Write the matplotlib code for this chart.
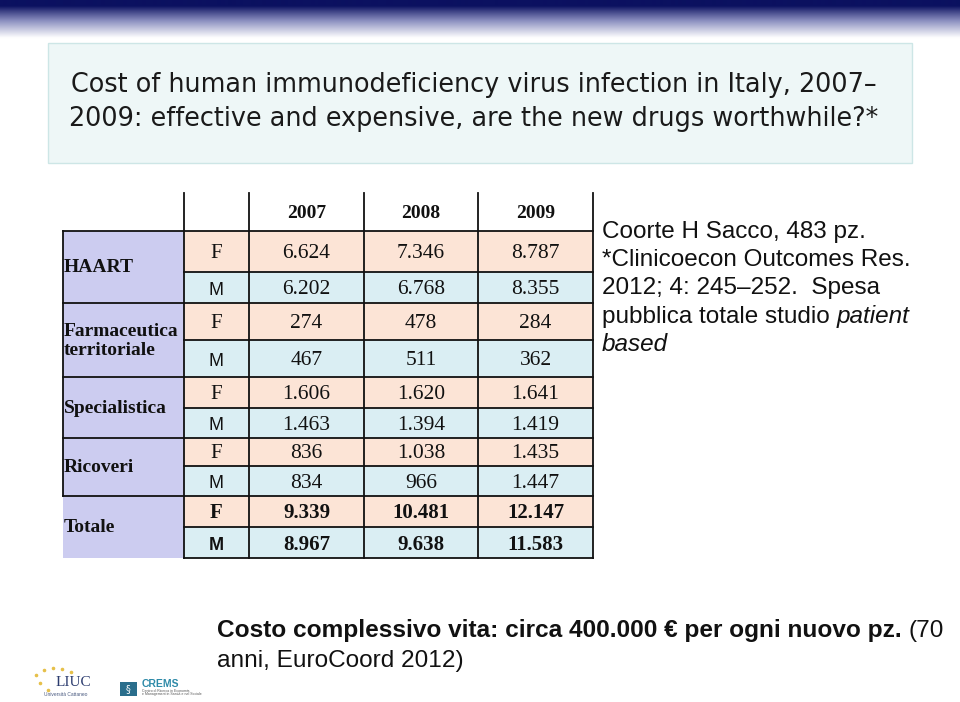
"""Slide: cost of HIV infection in Italy 2007-2009 (table of costs by sex)."""

import matplotlib
matplotlib.use("Agg")
import matplotlib.pyplot as plt
import numpy as np
from matplotlib.patches import Rectangle
from matplotlib.colors import LinearSegmentedColormap

# ── Data ─────────────────────────────────────────────────────────────────────
TITLE_LINES = [
    "Cost of human immunodeficiency virus infection in Italy, 2007–",
    "2009: effective and expensive, are the new drugs worthwhile?*",
]
YEARS = ["2007", "2008", "2009"]
CATEGORIES = ["HAART", "Farmaceutica\nterritoriale", "Specialistica", "Ricoveri", "Totale"]
SEXES = ["F", "M"]
F_VALUES = [
    [6624, 7346, 8787],
    [274, 478, 284],
    [1606, 1620, 1641],
    [836, 1038, 1435],
    [9339, 10481, 12147],
]
M_VALUES = [
    [6202, 6768, 8355],
    [467, 511, 362],
    [1463, 1394, 1419],
    [834, 966, 1447],
    [8967, 9638, 11583],
]
# each note line is a list of (text, style) runs
NOTE_LINES = [
    [("Coorte H Sacco, 483 pz.", "normal")],
    [("*Clinicoecon Outcomes Res.", "normal")],
    [("2012; 4: 245–252.  Spesa", "normal")],
    [("pubblica totale studio ", "normal"), ("patient", "italic")],
    [("based", "italic")],
]
BOTTOM_LINES = [
    [("Costo complessivo vita: circa 400.000 € per ogni nuovo pz. ", "bold"), ("(70", "normal")],
    [("anni, EuroCoord 2012)", "normal")],
]

# ── Colours ──────────────────────────────────────────────────────────────────
NAVY = "#0B1160"
TITLE_BG = "#EEF7F7"
TITLE_EDGE = "#CDE6E6"
LAVENDER = "#CCCCF0"
PEACH = "#FCE4D6"
LIGHT_BLUE = "#DAEEF3"
INK = "#111111"

# ── Layout (pixel coordinates on a 960x702 slide) ───────────────────────────
COL_X = [63, 184, 249, 364, 478, 593]
ROW_Y = [193, 231, 272, 303, 340, 377, 408, 438, 466, 496, 527, 558]
LW = 1.3


def fmt_it(v):
    return f"{v:,}".replace(",", ".")


def draw_runs(ax, x, y, runs, size, family="Liberation Sans"):
    """Draw text runs one after another on one baseline."""
    renderer = ax.figure.canvas.get_renderer()
    inv = ax.transData.inverted()
    for text, style in runs:
        weight = "bold" if style == "bold" else "normal"
        fstyle = "italic" if style == "italic" else "normal"
        t = ax.text(x, y, text, fontsize=size, family=family, weight=weight,
                    style=fstyle, ha="left", va="center", color=INK)
        bb = t.get_window_extent(renderer=renderer)
        x = inv.transform((bb.x1, bb.y0))[0]


fig = plt.figure(figsize=(9.6, 7.02), dpi=100)
ax = fig.add_axes([0, 0, 1, 1])
ax.set_xlim(0, 960)
ax.set_ylim(702, 0)
ax.axis("off")

# header gradient band
grad = np.clip((np.linspace(0, 40, 200) - 6) / 32, 0, 1) ** 0.9
cmap = LinearSegmentedColormap.from_list("band", [NAVY, "#8C90C0", "#FFFFFF"])
ax.imshow(grad[:, None], cmap=cmap, aspect="auto", extent=(0, 960, 40, 0), zorder=0)

# title box
ax.add_patch(Rectangle((48, 43), 864, 120, facecolor=TITLE_BG, edgecolor=TITLE_EDGE, lw=1))
for i, line in enumerate(TITLE_LINES):
    ax.text(474, 85 + i * 34, line, fontsize=18.4, family="DejaVu Sans",
            ha="center", va="center", color="#1A1A1A")

# ── Table ────────────────────────────────────────────────────────────────────
for ci, cat in enumerate(CATEGORIES):
    top = ROW_Y[1 + 2 * ci]
    bottom = ROW_Y[3 + 2 * ci]
    ax.add_patch(Rectangle((COL_X[0], top), COL_X[1] - COL_X[0], bottom - top,
                           facecolor=LAVENDER, edgecolor="none"))
    ax.text(COL_X[0] + 1, (top + bottom) / 2 + 1, cat, fontsize=14,
            family="Liberation Serif", weight="bold", ha="left", va="center",
            linespacing=1.15, color=INK)
    is_total = cat == "Totale"
    for si, (sex, values) in enumerate(zip(SEXES, (F_VALUES[ci], M_VALUES[ci]))):
        r0 = ROW_Y[1 + 2 * ci + si]
        r1 = ROW_Y[2 + 2 * ci + si]
        ax.add_patch(Rectangle((COL_X[1], r0), COL_X[5] - COL_X[1], r1 - r0,
                               facecolor=PEACH if sex == "F" else LIGHT_BLUE,
                               edgecolor="none"))
        ym = (r0 + r1) / 2 + 2
        if sex == "F":
            ax.text((COL_X[1] + COL_X[2]) / 2, ym, sex, fontsize=15,
                    family="Liberation Serif", weight="bold" if is_total else "normal",
                    ha="center", va="center", color=INK)
        else:
            ax.text((COL_X[1] + COL_X[2]) / 2, ym + 1, sex, fontsize=13,
                    family="Liberation Sans", weight="bold" if is_total else "normal",
                    ha="center", va="center", color=INK)
        for k, v in enumerate(values):
            ax.text((COL_X[2 + k] + COL_X[3 + k]) / 2, ym, fmt_it(v),
                    fontsize=15 if is_total else 15.5, family="Liberation Serif",
                    weight="bold" if is_total else "normal",
                    ha="center", va="center", color=INK)

# header years
for k, yr in enumerate(YEARS):
    ax.text((COL_X[2 + k] + COL_X[3 + k]) / 2, 214, yr, fontsize=14,
            family="Liberation Serif", weight="bold", ha="center", va="center", color=INK)

# grid lines
line_kw = dict(color=INK, lw=LW, solid_capstyle="projecting")
for x in COL_X[1:]:
    ax.plot([x, x], [ROW_Y[0], ROW_Y[-1]], **line_kw)
ax.plot([COL_X[0], COL_X[0]], [ROW_Y[1], ROW_Y[9]], **line_kw)
for j, y in enumerate(ROW_Y[1:], start=1):
    group_line = (j % 2 == 1) and j <= 9
    x0 = COL_X[0] if group_line else COL_X[1]
    ax.plot([x0, COL_X[5]], [y, y], **line_kw)

# ── Notes ────────────────────────────────────────────────────────────────────
for i, runs in enumerate(NOTE_LINES):
    draw_runs(ax, 602, 232 + i * 28.2, runs, 17.5)

for i, runs in enumerate(BOTTOM_LINES):
    draw_runs(ax, 217, 631 + i * 30, runs, 17.6)

# ── Logos (approximate) ──────────────────────────────────────────────────────
dot_x = [36, 44, 53, 62, 71, 40, 48]
dot_y = [675, 670, 668, 669, 672, 683, 690]
ax.scatter(dot_x, dot_y, s=2.5, color="#E6C04A", zorder=3)
ax.text(73, 683, "LIUC", fontsize=11, family="Liberation Serif", color="#2B3B6E",
        ha="center", va="center")
ax.text(66, 695, "Università Cattaneo", fontsize=3.5, family="Liberation Sans",
        color="#4A5A80", ha="center", va="center")
ax.add_patch(Rectangle((120, 682), 17, 14, facecolor="#2A6E8C", edgecolor="none"))
ax.text(128.5, 689, "§", fontsize=7, color="white", ha="center", va="center")
ax.text(142, 684, "CREMS", fontsize=7.5, family="Liberation Sans", weight="bold",
        color="#2E8AA8", ha="left", va="center")
ax.text(142, 691, "Centro di Ricerca in Economia", fontsize=2.5, family="Liberation Sans",
        color="#555555", ha="left", va="center")
ax.text(142, 694, "e Management in Sanità e nel Sociale", fontsize=2.5,
        family="Liberation Sans", color="#555555", ha="left", va="center")

fig.savefig("out.png", dpi=100, facecolor="white")
